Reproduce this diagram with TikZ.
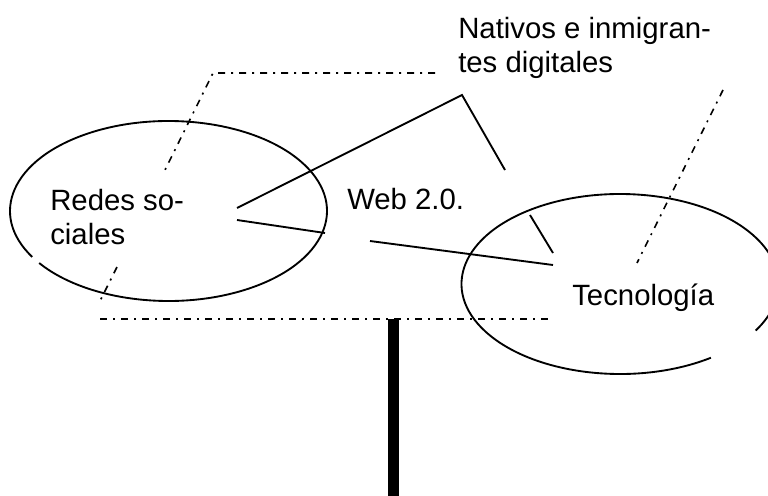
\documentclass[tikz,border=0pt]{standalone}
\usepackage{fontspec}
\setmainfont{Liberation Sans}
\usepackage{tikz}

\begin{document}
\begin{tikzpicture}[y=-0.75pt,x=0.75pt,
	txt/.style={anchor=base west,inner sep=0pt,align=left,font=\fontsize{22}{25.5}\selectfont},
	dashdot/.style={line width=1.2pt,dash pattern=on 5.25pt off 4.5pt on 1.5pt off 4.5pt},
	thin/.style={line width=1.4pt},
	oval/.style={x radius=158.5, y radius=90},
	bar/.style={line width=8.25pt}]

	\useasboundingbox (0,0) rectangle (768,496);
	\clip (0,0) rectangle (768,496);

	\coordinate (lc) at (168.5,211);
	\coordinate (rc) at (620,284);
	\draw[thin] (lc) ++(149.3:158.5 and 90) arc[start angle=149.3, end angle=504.7, oval];
	\draw[thin] (rc) ++(55:158.5 and 90) arc[start angle=55, end angle=391.1, oval];

	\node[txt] (redes) at (50,244) {Redes so-\\ciales};
	\node[txt] (web) at (347,209) {Web 2.0.};
	\node[txt] (nativos) at (458,72) {Nativos e inmigran-\\tes digitales};
	\node[txt] (tecno) at (572,305) {Tecnología};

	\coordinate (d1) at (435,73);
	\coordinate (d2) at (213,73);
	\coordinate (d3) at (165,170);
	\coordinate (d4) at (117,267);
	\coordinate (d5) at (100,301);
	\coordinate (d6) at (100,319);
	\coordinate (d7) at (550,319);
	\coordinate (d8) at (723,90);
	\coordinate (d9) at (637,263);
	\draw[dashdot] (d1) -- (d2) -- (d3);
	\draw[dashdot] (d4) -- (d5);
	\draw[dashdot] (d6) -- (d7);
	\draw[dashdot] (d8) -- (d9);

	\coordinate (s1) at (237,208);
	\coordinate (s2) at (462,95);
	\coordinate (s3) at (505,170);
	\coordinate (s4) at (530,215);
	\coordinate (s5) at (553,253);
	\coordinate (s6) at (237,220);
	\coordinate (s7) at (325,233);
	\coordinate (s8) at (370,241);
	\coordinate (s9) at (553,265);
	\draw[thin] (s1) -- (s2) -- (s3);
	\draw[thin] (s4) -- (s5);
	\draw[thin] (s6) -- (s7);
	\draw[thin] (s8) -- (s9);

	\coordinate (b1) at (393.5,319);
	\coordinate (b2) at (393.5,496);
	\draw[bar] (b1) -- (b2);
\end{tikzpicture}
\end{document}
